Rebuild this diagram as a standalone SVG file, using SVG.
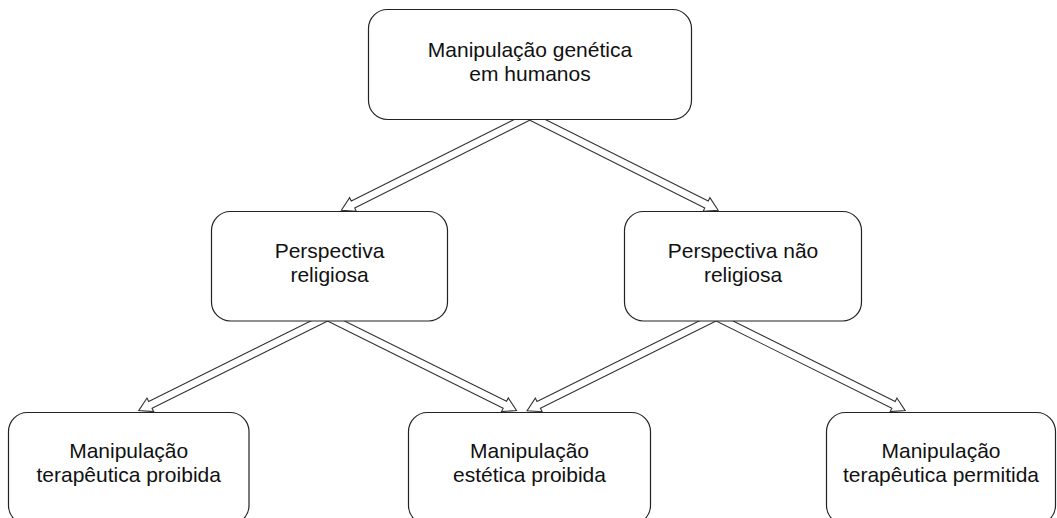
<svg xmlns="http://www.w3.org/2000/svg" xmlns:xlink="http://www.w3.org/1999/xlink" width="1057" height="518" viewBox="0 0 1057 518">
<style>
.box{fill:#fff;stroke:#222;stroke-width:1.2}
.arr{fill:#fff;stroke:#333;stroke-width:1.1;stroke-linejoin:miter}
text{font-family:"Liberation Sans",Arial,sans-serif;font-size:21px;fill:#111;text-anchor:middle}
</style>
<defs>
<path id="arrow" d="M -20,-3.8 L 188.5,-3.8 L 188.5,-7.6 L 201.5,0 L 188.5,7.6 L 188.5,3.8 L -20,3.8 Z"/>
</defs>
<rect width="1057" height="518" fill="#fff"/>
<g id="connectors">
<use xlink:href="#arrow" class="arr" transform="translate(521.5,120) rotate(153.37)"/>
<use xlink:href="#arrow" class="arr" transform="translate(538,120) rotate(26.63)"/>
<use xlink:href="#arrow" class="arr" transform="translate(319.2,321) rotate(153.59)"/>
<use xlink:href="#arrow" class="arr" transform="translate(336,321) rotate(26.38)"/>
<use xlink:href="#arrow" class="arr" transform="translate(707.5,321) rotate(153.56)"/>
<use xlink:href="#arrow" class="arr" transform="translate(724.7,321) rotate(26.4)"/>
</g>
<g id="node-top">
<rect class="box" x="368.5" y="9.5" width="323" height="110" rx="19"/>
<text x="530" y="57">Manipulação genética</text>
<text x="530" y="81">em humanos</text>
</g>
<g id="node-religiosa">
<rect class="box" x="211.5" y="211.5" width="236" height="109.5" rx="19"/>
<text x="329.5" y="258">Perspectiva</text>
<text x="329.5" y="282">religiosa</text>
</g>
<g id="node-nao-religiosa">
<rect class="box" x="624.5" y="211.5" width="237" height="109.5" rx="19"/>
<text x="743" y="258">Perspectiva não</text>
<text x="743" y="282">religiosa</text>
</g>
<g id="node-terapeutica-proibida">
<rect class="box" x="8.5" y="412.5" width="240.5" height="112" rx="19"/>
<text x="128.7" y="457.5">Manipulação</text>
<text x="128.7" y="481.5">terapêutica proibida</text>
</g>
<g id="node-estetica-proibida">
<rect class="box" x="408.5" y="412.5" width="242" height="112" rx="19"/>
<text x="529.5" y="457.5">Manipulação</text>
<text x="529.5" y="481.5">estética proibida</text>
</g>
<g id="node-terapeutica-permitida">
<rect class="box" x="826.5" y="412.5" width="229" height="112" rx="19"/>
<text x="941" y="457.5">Manipulação</text>
<text x="941" y="481.5">terapêutica permitida</text>
</g>
</svg>
